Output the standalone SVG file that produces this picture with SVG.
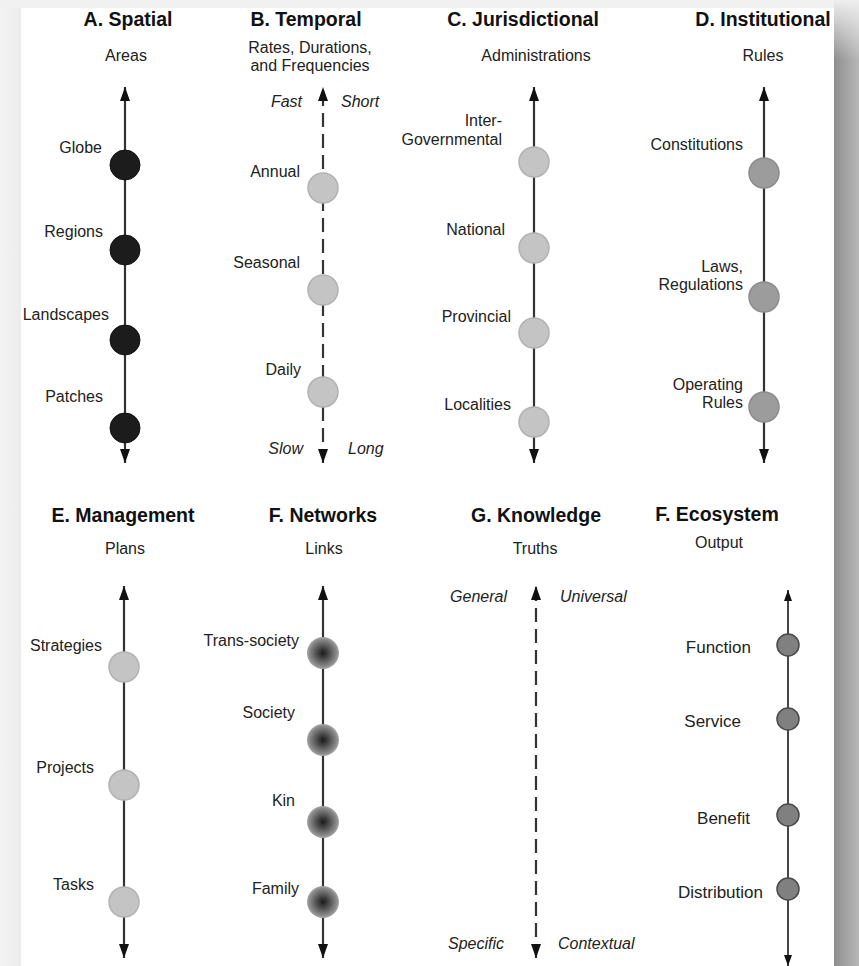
<svg xmlns="http://www.w3.org/2000/svg" width="859" height="966" viewBox="0 0 859 966">
<defs>
<style>
.t{font-family:"Liberation Sans",Arial,sans-serif;font-weight:bold;font-size:19.5px;fill:#111;text-anchor:middle}
.s{font-family:"Liberation Sans",Arial,sans-serif;font-size:16px;fill:#222;text-anchor:middle}
.l{font-family:"Liberation Sans",Arial,sans-serif;font-size:16px;fill:#222;text-anchor:end}
.lh{font-family:"Liberation Sans",Arial,sans-serif;font-size:17px;fill:#222;text-anchor:end}
.i{font-family:"Liberation Sans",Arial,sans-serif;font-size:16px;font-style:italic;fill:#222}
.ax{stroke:#333;stroke-width:2.2;fill:none;marker-start:url(#ah);marker-end:url(#ah)}
.axs{stroke:#333;stroke-width:1.8;fill:none;marker-start:url(#ahs);marker-end:url(#ahs)}
.dash{stroke-dasharray:14 7}
.cA{fill:#1c1c1c;stroke:#111;stroke-width:1}
.cL{fill:#c4c4c4;stroke:#b2b2b2;stroke-width:1.5}
.cD{fill:#9c9c9c;stroke:#8c8c8c;stroke-width:1.5}
.cF{fill:url(#rg);stroke:none}
.cH{fill:#808080;stroke:#4a4a4a;stroke-width:1.5}
</style>
<marker id="ah" viewBox="0 0 14 10" refX="14" refY="5" markerWidth="14" markerHeight="10" markerUnits="userSpaceOnUse" orient="auto-start-reverse">
<path d="M0,0 L14,5 L0,10 z" fill="#111" stroke="none"/>
</marker>
<marker id="ahs" viewBox="0 0 11 8" refX="11" refY="4" markerWidth="11" markerHeight="8" markerUnits="userSpaceOnUse" orient="auto-start-reverse">
<path d="M0,0 L11,4 L0,8 z" fill="#111" stroke="none"/>
</marker>
<radialGradient id="rg" cx="0.5" cy="0.5" r="0.5">
<stop offset="0" stop-color="#1a1a1a"/>
<stop offset="0.45" stop-color="#555"/>
<stop offset="0.85" stop-color="#8a8a8a"/>
<stop offset="1" stop-color="#a8a8a8"/>
</radialGradient>
<linearGradient id="rs" x1="0" y1="0" x2="1" y2="0">
<stop offset="0" stop-color="#8e8e8e"/>
<stop offset="1" stop-color="#b8b8b8"/>
</linearGradient>
<linearGradient id="rt" x1="0" y1="0" x2="0" y2="1">
<stop offset="0" stop-color="#eeeeee" stop-opacity="1"/>
<stop offset="1" stop-color="#eeeeee" stop-opacity="0"/>
</linearGradient>
<linearGradient id="ls" x1="0" y1="0" x2="1" y2="0">
<stop offset="0" stop-color="#f4f4f4"/>
<stop offset="1" stop-color="#ebebeb"/>
</linearGradient>
</defs>

<g id="frame">
<rect x="0" y="0" width="859" height="966" fill="#f1f1f1"/>
<rect x="0" y="8" width="21" height="958" fill="url(#ls)"/>
<rect x="834" y="0" width="25" height="966" fill="url(#rs)"/>
<rect x="834" y="0" width="25" height="60" fill="url(#rt)"/>
<rect x="21" y="8" width="813" height="958" fill="#ffffff"/>
</g>

<g id="connectors">
<line class="ax" x1="125" y1="463" x2="125" y2="87"/>
<line class="ax dash" x1="323" y1="463" x2="323" y2="87"/>
<line class="ax" x1="534" y1="463" x2="534" y2="87"/>
<line class="ax" x1="764" y1="463" x2="764" y2="87"/>
<line class="ax" x1="124" y1="958" x2="124" y2="586"/>
<line class="ax" x1="323" y1="958" x2="323" y2="586"/>
<line class="ax dash" x1="536" y1="958" x2="536" y2="586"/>
<line class="axs" x1="788" y1="966" x2="788" y2="590"/>
</g>

<g id="panel-A">
<text class="t" x="128" y="26">A. Spatial</text>
<text class="s" x="126" y="61">Areas</text>
<g id="A-globe"><circle class="cA" cx="125" cy="165" r="15"/><text class="l" x="102" y="153">Globe</text></g>
<g id="A-regions"><circle class="cA" cx="125" cy="250" r="15"/><text class="l" x="103" y="237">Regions</text></g>
<g id="A-landscapes"><circle class="cA" cx="125" cy="340" r="15"/><text class="l" x="109" y="320">Landscapes</text></g>
<g id="A-patches"><circle class="cA" cx="125" cy="428" r="15"/><text class="l" x="103" y="402">Patches</text></g>
</g>

<g id="panel-B">
<text class="t" x="306" y="26">B. Temporal</text>
<text class="s" x="310" y="53">Rates, Durations,</text>
<text class="s" x="310" y="71">and Frequencies</text>
<text class="i" x="302" y="107" text-anchor="end">Fast</text>
<text class="i" x="341" y="107">Short</text>
<g id="B-annual"><circle class="cL" cx="323" cy="188" r="15"/><text class="l" x="300" y="177">Annual</text></g>
<g id="B-seasonal"><circle class="cL" cx="323" cy="290" r="15"/><text class="l" x="300" y="268">Seasonal</text></g>
<g id="B-daily"><circle class="cL" cx="323" cy="392" r="15"/><text class="l" x="301" y="375">Daily</text></g>
<text class="i" x="303" y="454" text-anchor="end">Slow</text>
<text class="i" x="348" y="454">Long</text>
</g>

<g id="panel-C">
<text class="t" x="523" y="26">C. Jurisdictional</text>
<text class="s" x="536" y="61">Administrations</text>
<g id="C-intergov"><circle class="cL" cx="534" cy="162" r="15"/><text class="l" x="502" y="126">Inter-</text><text class="l" x="502" y="145">Governmental</text></g>
<g id="C-national"><circle class="cL" cx="534" cy="248" r="15"/><text class="l" x="505" y="235">National</text></g>
<g id="C-provincial"><circle class="cL" cx="534" cy="333" r="15"/><text class="l" x="511" y="322">Provincial</text></g>
<g id="C-localities"><circle class="cL" cx="534" cy="422" r="15"/><text class="l" x="511" y="410">Localities</text></g>
</g>

<g id="panel-D">
<text class="t" x="763" y="26">D. Institutional</text>
<text class="s" x="763" y="61">Rules</text>
<g id="D-constitutions"><circle class="cD" cx="764" cy="173" r="15"/><text class="l" x="743" y="150">Constitutions</text></g>
<g id="D-laws"><circle class="cD" cx="764" cy="297" r="15"/><text class="l" x="743" y="272">Laws,</text><text class="l" x="743" y="290">Regulations</text></g>
<g id="D-operating"><circle class="cD" cx="764" cy="407" r="15"/><text class="l" x="743" y="390">Operating</text><text class="l" x="743" y="408">Rules</text></g>
</g>

<g id="panel-E">
<text class="t" x="123" y="522">E. Management</text>
<text class="s" x="125" y="554">Plans</text>
<g id="E-strategies"><circle class="cL" cx="124" cy="667" r="15"/><text class="l" x="102" y="651">Strategies</text></g>
<g id="E-projects"><circle class="cL" cx="124" cy="785" r="15"/><text class="l" x="94" y="773">Projects</text></g>
<g id="E-tasks"><circle class="cL" cx="124" cy="902" r="15"/><text class="l" x="94" y="890">Tasks</text></g>
</g>

<g id="panel-F">
<text class="t" x="323" y="522">F. Networks</text>
<text class="s" x="324" y="554">Links</text>
<g id="F-transsociety"><circle class="cF" cx="323" cy="653" r="16"/><text class="l" x="299" y="646">Trans-society</text></g>
<g id="F-society"><circle class="cF" cx="323" cy="740" r="16"/><text class="l" x="295" y="718">Society</text></g>
<g id="F-kin"><circle class="cF" cx="323" cy="822" r="16"/><text class="l" x="295" y="806">Kin</text></g>
<g id="F-family"><circle class="cF" cx="323" cy="902" r="16"/><text class="l" x="299" y="894">Family</text></g>
</g>

<g id="panel-G">
<text class="t" x="536" y="522">G. Knowledge</text>
<text class="s" x="535" y="554">Truths</text>
<text class="i" x="507" y="602" text-anchor="end">General</text>
<text class="i" x="560" y="602">Universal</text>
<text class="i" x="504" y="949" text-anchor="end">Specific</text>
<text class="i" x="558" y="949">Contextual</text>
</g>

<g id="panel-H">
<text class="t" x="717" y="521">F. Ecosystem</text>
<text class="s" x="719" y="548">Output</text>
<g id="H-function"><circle class="cH" cx="788" cy="645" r="11"/><text class="lh" x="751" y="653">Function</text></g>
<g id="H-service"><circle class="cH" cx="788" cy="719" r="11"/><text class="lh" x="741" y="727">Service</text></g>
<g id="H-benefit"><circle class="cH" cx="788" cy="815" r="11"/><text class="lh" x="750" y="824">Benefit</text></g>
<g id="H-distribution"><circle class="cH" cx="788" cy="889" r="11"/><text class="lh" x="763" y="898">Distribution</text></g>
</g>
</svg>
